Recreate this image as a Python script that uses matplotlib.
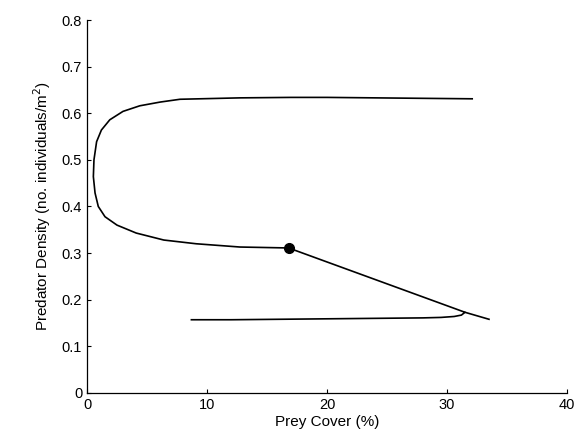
import numpy as np
import matplotlib
matplotlib.use("Agg")
import matplotlib.pyplot as plt

# trajectory (prey cover %, predator density)
traj_x = [8.7, 12, 16, 20, 24, 28, 29.5, 30.6, 31.2, 31.5, 16.8,
          12.75, 9.1, 6.4, 4.1, 2.5, 1.5, 0.94, 0.67, 0.53, 0.58, 0.8,
          1.2, 1.9, 3.0, 4.4, 6.1, 7.75, 12.75, 17, 20, 24, 28, 32.1]
traj_y = [0.157, 0.157, 0.158, 0.159, 0.160, 0.161, 0.162, 0.164, 0.167, 0.173, 0.311,
          0.313, 0.320, 0.328, 0.343, 0.360, 0.378, 0.400, 0.429, 0.464, 0.500, 0.539,
          0.564, 0.586, 0.604, 0.616, 0.624, 0.630, 0.633, 0.634, 0.634, 0.633, 0.632, 0.631]
tail_x = [31.5, 33.5]
tail_y = [0.173, 0.158]
start_x = [16.8]
start_y = [0.311]

xticks = [0, 10, 20, 30, 40]
yticks = [0, 0.1, 0.2, 0.3, 0.4, 0.5, 0.6, 0.7, 0.8]
ytick_labels = ["0", "0.1", "0.2", "0.3", "0.4", "0.5", "0.6", "0.7", "0.8"]

plt.rcParams['font.family'] = ['Liberation Sans', 'DejaVu Sans']

fig = plt.figure(figsize=(5.8, 4.41), dpi=100)
ax = fig.add_axes([0.15, 0.109, 0.8276, 0.8456])

ax.plot(traj_x, traj_y, color='black', lw=1.2, solid_joinstyle='round')
ax.plot(tail_x, tail_y, color='black', lw=1.2)
ax.plot(start_x, start_y, 'o', color='black', ms=7)

ax.set_xlim(0, 40)
ax.set_ylim(0, 0.8)
ax.set_xticks(xticks)
ax.set_yticks(yticks)
ax.set_yticklabels(ytick_labels)
ax.tick_params(direction='in', length=3, labelsize=10.5, width=0.8)
for s in ['top', 'right']:
    ax.spines[s].set_visible(False)
for s in ['left', 'bottom']:
    ax.spines[s].set_linewidth(0.9)

ax.set_xlabel("Prey Cover (%)", fontsize=11, labelpad=2)
ax.set_ylabel("Predator Density (no. individuals/m$^2$)", fontsize=11, labelpad=6)

fig.savefig("out.png", dpi=100)
